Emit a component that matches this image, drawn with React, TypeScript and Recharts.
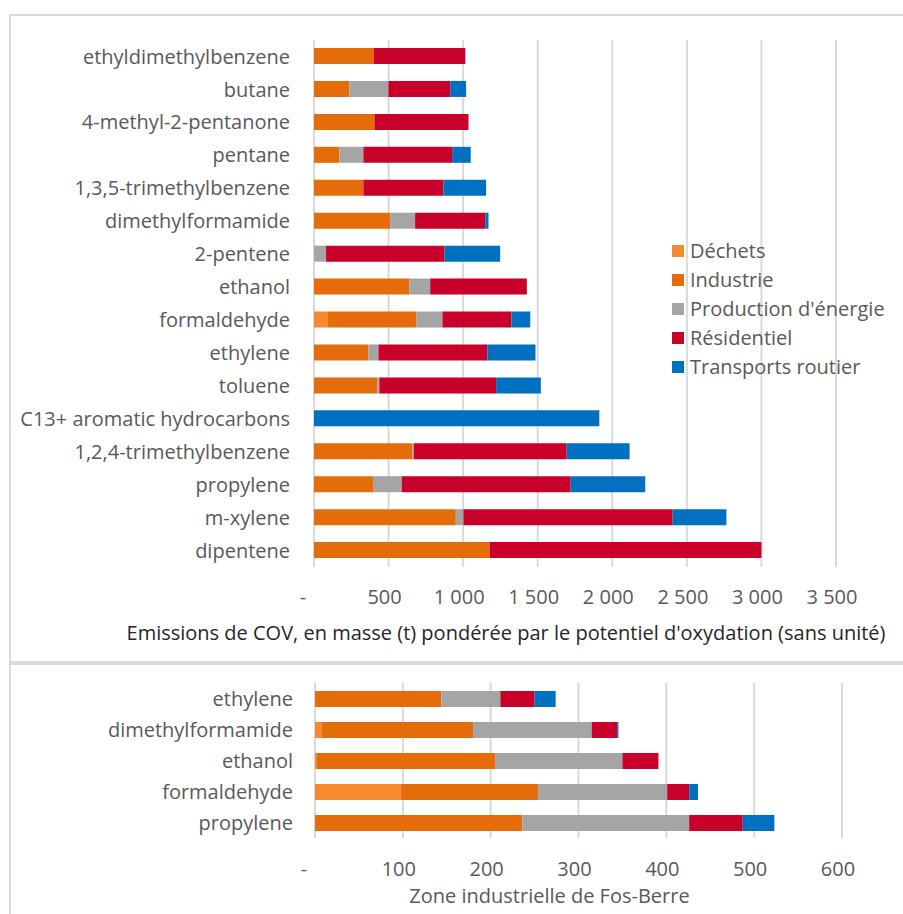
import { Bar, BarChart, CartesianGrid, Legend, XAxis, YAxis } from "recharts";

const topCategories = [
  "ethyldimethylbenzene",
  "butane",
  "4-methyl-2-pentanone",
  "pentane",
  "1,3,5-trimethylbenzene",
  "dimethylformamide",
  "2-pentene",
  "ethanol",
  "formaldehyde",
  "ethylene",
  "toluene",
  "C13+ aromatic hydrocarbons",
  "1,2,4-trimethylbenzene",
  "propylene",
  "m-xylene",
  "dipentene",
];
const topDechets = [0, 0, 0, 0, 0, 0, 0, 0, 89, 0, 0, 0, 0, 0, 0, 0];
const topIndustrie = [400, 237, 405, 170, 331, 510, 0, 638, 596, 365, 425, 0, 660, 400, 951, 1177];
const topProduction = [0, 262, 0, 161, 0, 168, 81, 141, 176, 67, 13, 0, 9, 188, 51, 0];
const topResidentiel = [615, 414, 631, 595, 537, 470, 794, 648, 463, 731, 783, 0, 1025, 1133, 1403, 1823];
const topTransports = [0, 107, 0, 125, 286, 22, 373, 0, 126, 322, 300, 1913, 422, 500, 360, 0];
const topTicks = [0, 500, 1000, 1500, 2000, 2500, 3000, 3500];

const bottomCategories = ["ethylene", "dimethylformamide", "ethanol", "formaldehyde", "propylene"];
const bottomDechets = [0, 8, 1.5, 98, 0];
const bottomIndustrie = [144, 172, 203.5, 156, 236];
const bottomProduction = [67, 135, 145, 147, 190];
const bottomResidentiel = [39, 29, 41, 25, 61];
const bottomTransports = [24, 1.5, 0, 10, 36];
const bottomTicks = [0, 100, 200, 300, 400, 500, 600];

const sectors = [
  { key: "dechets", name: "Déchets", color: "#F58A31" },
  { key: "industrie", name: "Industrie", color: "#E46C0A" },
  { key: "production", name: "Production d'énergie", color: "#A5A5A5" },
  { key: "residentiel", name: "Résidentiel", color: "#C8002A" },
  { key: "transports", name: "Transports routier", color: "#0070C0" },
];

function buildRows(
  cats: string[],
  d: number[],
  i: number[],
  p: number[],
  r: number[],
  t: number[]
) {
  return cats.map((name, k) => ({
    name,
    dechets: d[k],
    industrie: i[k],
    production: p[k],
    residentiel: r[k],
    transports: t[k],
  }));
}

const topData = buildRows(topCategories, topDechets, topIndustrie, topProduction, topResidentiel, topTransports);
const bottomData = buildRows(
  bottomCategories,
  bottomDechets,
  bottomIndustrie,
  bottomProduction,
  bottomResidentiel,
  bottomTransports
);

const FONT = "'Open Sans', sans-serif";
const GRID = "#D9D9D9";

function formatTick(v: number): string {
  if (v === 0) return "-";
  if (v >= 1000) return `${Math.floor(v / 1000)} ${String(v % 1000).padStart(3, "0")}`;
  return String(v);
}

function ValueTick({ x, y, payload }: any) {
  const v = payload.value as number;
  return (
    <text
      x={x + (v === 0 ? -11 : -4)}
      y={y}
      dy="0.71em"
      textAnchor="middle"
      fill="#595959"
      fontSize={20}
      fontFamily={FONT}
    >
      {formatTick(v)}
    </text>
  );
}

function SectorLegend() {
  return (
    <div style={{ fontFamily: FONT, fontSize: 20, color: "#595959" }}>
      {sectors.map((s) => (
        <div key={s.key} style={{ display: "flex", alignItems: "center", height: 29 }}>
          <div style={{ width: 12, height: 12, background: s.color, marginRight: 6 }} />
          <span>{s.name}</span>
        </div>
      ))}
    </div>
  );
}

function renderBars() {
  return sectors.map((s) => (
    <Bar
      key={s.key}
      dataKey={s.key}
      name={s.name}
      stackId="a"
      fill={s.color}
      barSize={16}
      isAnimationActive={false}
    />
  ));
}

export default function App() {
  return (
    <div
      style={{
        position: "absolute",
        left: 0,
        top: 0,
        width: 903,
        height: 914,
        overflow: "hidden",
        background: "#fff",
      }}
    >
      <div
        style={{
          position: "absolute",
          left: 9,
          top: 14,
          width: 1000,
          height: 645,
          border: `2px solid ${GRID}`,
        }}
      />
      <div
        style={{
          position: "absolute",
          left: 9,
          top: 663,
          width: 1000,
          height: 400,
          border: `2px solid ${GRID}`,
        }}
      />
      <div style={{ position: "absolute", left: 0, top: 0 }}>
        <BarChart
          width={903}
          height={660}
          data={topData}
          layout="vertical"
          margin={{ top: 40, right: 67, left: 0, bottom: 0 }}
        >
          <CartesianGrid horizontal={false} stroke={GRID} strokeWidth={2} />
          <XAxis
            type="number"
            domain={[0, 3500]}
            ticks={topTicks}
            axisLine={false}
            tickLine={false}
            tickMargin={17}
            height={93}
            tick={<ValueTick />}
            label={{
              value:
                "Emissions de COV, en masse (t) pondérée par le potentiel d'oxydation (sans unité)",
              position: "insideBottom",
              offset: 20,
              dx: -69,
              fill: "#262626",
              fontSize: 20,
              fontFamily: FONT,
            }}
          />
          <YAxis
            type="category"
            dataKey="name"
            width={314}
            axisLine={false}
            tickLine={false}
            tickMargin={18}
            interval={0}
            tick={{ fill: "#595959", fontSize: 20, fontFamily: FONT }}
          />
          <Legend
            layout="vertical"
            align="center"
            verticalAlign="middle"
            content={<SectorLegend />}
            wrapperStyle={{ position: "absolute", left: 672, top: 236, width: "auto" }}
          />
          {renderBars()}
        </BarChart>
      </div>
      <div style={{ position: "absolute", left: 0, top: 663 }}>
        <BarChart
          width={903}
          height={251}
          data={bottomData}
          layout="vertical"
          margin={{ top: 20, right: 61, left: 0, bottom: 0 }}
        >
          <CartesianGrid horizontal={false} stroke={GRID} strokeWidth={2} />
          <XAxis
            type="number"
            domain={[0, 600]}
            ticks={bottomTicks}
            axisLine={false}
            tickLine={false}
            tickMargin={18}
            height={76}
            tick={<ValueTick />}
            label={{
              value: "Zone industrielle de Fos-Berre",
              position: "insideBottom",
              offset: 11,
              dx: -29,
              fill: "#595959",
              fontSize: 20,
              fontFamily: FONT,
            }}
          />
          <YAxis
            type="category"
            dataKey="name"
            width={315}
            axisLine={false}
            tickLine={false}
            tickMargin={16}
            interval={0}
            tick={{ fill: "#595959", fontSize: 20, fontFamily: FONT }}
          />
          {renderBars()}
        </BarChart>
      </div>
    </div>
  );
}
